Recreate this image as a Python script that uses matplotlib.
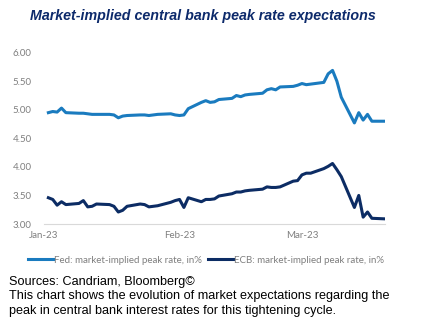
import pandas as pd
import matplotlib
matplotlib.use('Agg')
import matplotlib.pyplot as plt
import matplotlib.dates as mdates

# business days shown (day of month)
jan_days = [2, 3, 4, 5, 6, 9, 10, 11, 12, 13, 16, 17, 18, 19, 20, 23, 24, 25, 26, 27, 30, 31]
feb_days = [1, 2, 3, 6, 7, 8, 9, 10, 13, 14, 15, 16, 17, 20, 21, 22, 23, 24, 27, 28]
mar_days = [1, 2, 3, 6, 7, 8, 9, 10, 13, 14, 15, 16, 17, 20]

fed = [4.95, 4.97, 4.96, 5.03, 4.95, 4.94, 4.94, 4.93, 4.92, 4.92, 4.92, 4.91, 4.86, 4.89, 4.90,
       4.91, 4.91, 4.90, 4.91, 4.92, 4.93, 4.91,
       4.90, 4.91, 5.02, 5.13, 5.16, 5.13, 5.14, 5.18, 5.20, 5.25, 5.23, 5.26, 5.27, 5.29,
       5.35, 5.37, 5.35, 5.40, 5.41, 5.43,
       5.46, 5.44, 5.45, 5.48, 5.63, 5.69, 5.50, 5.22, 4.77, 4.95, 4.82, 4.92, 4.80, 4.80]
ecb = [3.46, 3.43, 3.33, 3.39, 3.34, 3.36, 3.41, 3.30, 3.31, 3.35, 3.34, 3.31, 3.21, 3.24, 3.31,
       3.35, 3.34, 3.30, 3.31, 3.32, 3.38, 3.41,
       3.43, 3.29, 3.46, 3.39, 3.43, 3.43, 3.44, 3.49, 3.53, 3.56, 3.56, 3.58, 3.59, 3.61,
       3.65, 3.64, 3.64, 3.65, 3.75, 3.76,
       3.86, 3.89, 3.89, 3.97, 4.01, 4.06, 3.95, 3.83, 3.29, 3.50, 3.12, 3.21, 3.10, 3.09]

fed_label = "Fed: market-implied peak rate, in%"
ecb_label = "ECB: market-implied peak rate, in%"
title = "Market-implied central bank peak rate expectations"
notes = ["Sources: Candriam, Bloomberg\u00a9",
         "This chart shows the evolution of market expectations regarding the",
         "peak in central bank interest rates for this tightening cycle."]

dates = ([pd.Timestamp(2023, 1, d) for d in jan_days] +
         [pd.Timestamp(2023, 2, d) for d in feb_days] +
         [pd.Timestamp(2023, 3, d) for d in mar_days])

fed_col = '#1a7bbf'
ecb_col = '#0c2c64'
grey = '#7f7f7f'

fig = plt.figure(figsize=(4.35, 3.3), dpi=100)
ax = fig.add_axes([44/435, 1 - 224/330, (385-44)/435, (224-52.7)/330])

ax.plot(dates, fed, color=fed_col, lw=2.2, label=fed_label)
ax.plot(dates, ecb, color=ecb_col, lw=2.2, label=ecb_label)

ax.set_xlim(pd.Timestamp(2023, 1, 1), pd.Timestamp(2023, 3, 20))
ax.set_ylim(3.0, 6.0)
ax.set_yticks([3.0, 3.5, 4.0, 4.5, 5.0, 5.5, 6.0])
ax.yaxis.set_major_formatter(matplotlib.ticker.FormatStrFormatter('%.2f'))
ax.set_xticks([pd.Timestamp(2023, 1, 1), pd.Timestamp(2023, 2, 1), pd.Timestamp(2023, 3, 1)])
ax.xaxis.set_major_formatter(mdates.DateFormatter('%b-%y'))

for s in ['top', 'right', 'left']:
    ax.spines[s].set_visible(False)
ax.spines['bottom'].set_color('#d9d9d9')
ax.tick_params(length=0, labelsize=7, labelcolor=grey)
ax.tick_params(axis='y', pad=9)
ax.tick_params(axis='x', pad=5)
for t in ax.get_xticklabels() + ax.get_yticklabels():
    t.set_family('Lato')

leg = ax.legend(loc='upper center', bbox_to_anchor=(0.475, -0.135), ncol=2, frameon=False,
                handlelength=2.5, handletextpad=0.1, columnspacing=0.7,
                prop={'family': 'Lato', 'size': 7.0})
for t in leg.get_texts():
    t.set_color(grey)

fig.text(0.069, 1 - 16/330, title, fontsize=10.3, fontweight='bold', style='italic',
         color='#0d2a6b', family='Liberation Sans', va='center')

for i, line in enumerate(notes):
    fig.text(9/435, 1 - (282 + i*14.5)/330, line, fontsize=9.1, color='black',
             family='Liberation Sans', va='center')

fig.savefig('out.png', dpi=100)
